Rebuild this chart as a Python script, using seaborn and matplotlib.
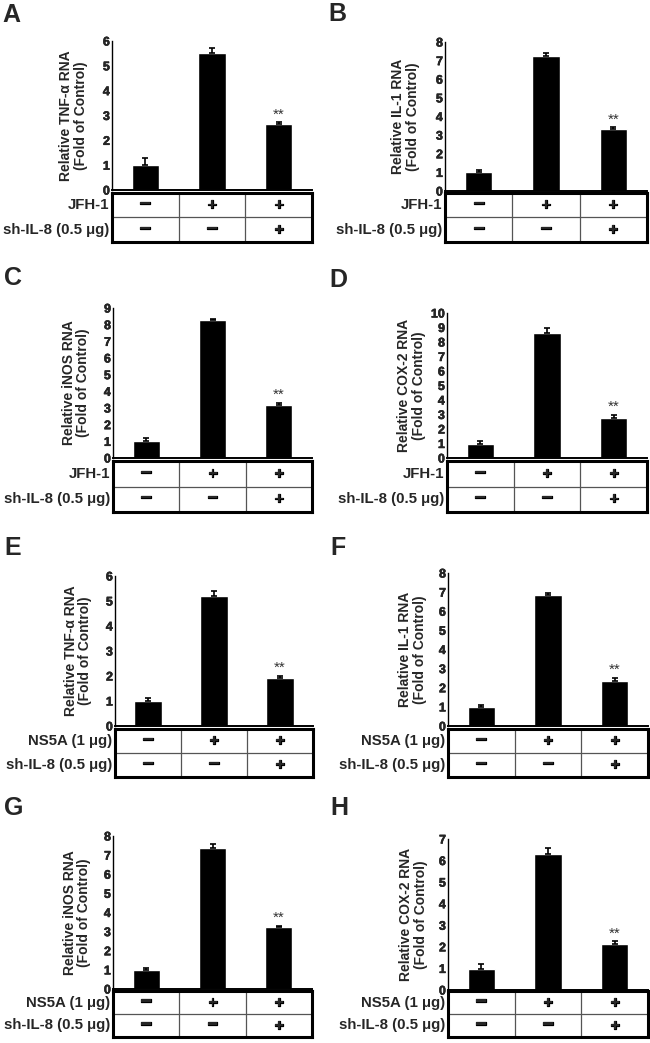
import numpy as np
import pandas as pd
import matplotlib
matplotlib.use("Agg")
import matplotlib.pyplot as plt
import matplotlib.patheffects as pe
import seaborn as sns

# ---------------- data ----------------
conditions = ["Control", "Treated", "Treated + sh-IL-8"]
panel_letters = ["A", "B", "C", "D", "E", "F", "G", "H"]
genes = ["TNF-α", "IL-1", "iNOS", "COX-2", "TNF-α", "IL-1", "iNOS", "COX-2"]
y_max = [6, 8, 9, 10, 6, 8, 8, 7]

mean_A = [1.00, 5.53, 2.64]; err_A = [0.30, 0.19, 0.09]
mean_B = [1.02, 7.24, 3.34]; err_B = [0.12, 0.16, 0.09]
mean_C = [1.02, 8.26, 3.19]; err_C = [0.20, 0.10, 0.12]
mean_D = [0.97, 8.64, 2.77]; err_D = [0.21, 0.32, 0.21]
mean_E = [1.01, 5.21, 1.91]; err_E = [0.11, 0.19, 0.11]
mean_F = [1.01, 6.86, 2.34]; err_F = [0.11, 0.09, 0.18]
mean_G = [1.01, 7.37, 3.25]; err_G = [0.10, 0.20, 0.07]
mean_H = [0.99, 6.29, 2.11]; err_H = [0.22, 0.28, 0.16]

means = [mean_A, mean_B, mean_C, mean_D, mean_E, mean_F, mean_G, mean_H]
errs = [err_A, err_B, err_C, err_D, err_E, err_F, err_G, err_H]

row1_labels = ["JFH-1"] * 4 + ["NS5A (1 μg)"] * 4
row2_label = "sh-IL-8 (0.5 μg)"
row1_signs = ["−", "+", "+"]
row2_signs = ["−", "−", "+"]
significance = ["", "", "**"]

# ---------------- style ----------------
sns.set_style("white")
plt.rcParams["font.family"] = ["Liberation Sans", "DejaVu Sans"]
plt.rcParams["font.weight"] = "bold"

W, H = 650, 1043
fig = plt.figure(figsize=(W / 100, H / 100), dpi=100)


def rect(x0, y0, x1, y1):
    return [x0 / W, 1 - y1 / H, (x1 - x0) / W, (y1 - y0) / H]

# layout in pixels: axes x0, x1, axes top, axes bottom, table top, table bottom
layout = [
    (112, 312, 41, 190, 193, 242),
    (445, 647, 42, 191, 193, 242),
    (113, 312, 308, 458, 461, 512),
    (447, 647, 313, 458, 461, 512),
    (115, 313, 576, 726, 729, 777),
    (448, 648, 573, 726, 729, 777),
    (113, 312, 836, 989, 991, 1037),
    (448, 648, 839, 990, 991, 1037),
]
label_x = [-0.12, -0.125, -0.115, -0.105, -0.115, -0.105, -0.11, -0.10]
letter_pos = [(2, 3), (328, 2), (4, 266), (329, 268), (4, 536), (330, 536), (4, 796), (330, 796)]
sign_size = {"−": 14, "+": 11.5}
sign_fx = [pe.withStroke(linewidth=0.9, foreground="black")]
tick_fx = [pe.withStroke(linewidth=0.35, foreground="black")]

for i in range(8):
    x0, x1, yt, yb, tt, tb = layout[i]
    ax = fig.add_axes(rect(x0, yt, x1, yb))
    df = pd.DataFrame({"cond": conditions, "val": means[i], "err": errs[i]})
    sns.barplot(data=df, x="cond", y="val", color="black", saturation=1,
                width=0.41, errorbar=None, ax=ax)
    centers = [p.get_x() + p.get_width() / 2 for p in ax.patches]
    ax.errorbar(centers, df["val"], yerr=[np.zeros(len(df)), df["err"]],
                fmt="none", ecolor="black", elinewidth=1.2, capsize=2.5, capthick=1.2)
    for c, v, e, s in zip(centers, df["val"], df["err"], significance):
        if s:
            ax.annotate(s, (c, v + e), xytext=(0, 0.5), textcoords="offset points",
                        ha="center", va="bottom", fontsize=11, fontweight="normal",
                        color="#333333")
    ax.set_xlim(-0.5, 2.5)
    ax.set_ylim(0, y_max[i])
    ax.set_yticks(range(0, y_max[i] + 1))
    ax.set_xticks([0.5, 1.5])
    ax.set_xticklabels([])
    ax.tick_params(axis="y", direction="in", length=2, width=0.8, pad=1.5, labelsize=9)
    ax.tick_params(axis="x", direction="in", length=2, width=0.8)
    for lab in ax.get_yticklabels():
        lab.set_fontweight("bold")
        lab.set_path_effects(tick_fx)
    ax.set_xlabel("")
    ax.set_ylabel(f"Relative {genes[i]} RNA\n(Fold of Control)", fontsize=10,
                  fontweight="bold", linespacing=1.05)
    ax.yaxis.set_label_coords(label_x[i], 0.5)
    for side in ["top", "right"]:
        ax.spines[side].set_visible(False)
    ax.spines["left"].set_linewidth(1.0)
    ax.spines["bottom"].set_linewidth(1.4)
    ax.spines["left"].set_color("black")
    ax.spines["bottom"].set_color("black")

    # table below
    tx = fig.add_axes(rect(x0, tt, x1, tb))
    tx.set_xlim(-0.5, 2.5)
    tx.set_ylim(0, 2)
    tx.set_xticks([])
    tx.set_yticks([])
    for sp in tx.spines.values():
        sp.set_visible(True)
        sp.set_linewidth(2.2)
        sp.set_color("black")
    tx.axhline(1, color="#555555", lw=0.9)
    for b in [0.5, 1.5]:
        tx.axvline(b, color="#555555", lw=0.9)
    for j in range(3):
        for yy, s in ((1.5, row1_signs[j]), (0.5, row2_signs[j])):
            tx.text(j, yy, s, ha="center", va="center", fontsize=sign_size[s],
                    fontweight="bold", path_effects=sign_fx)
    tx.annotate(row1_labels[i], (-0.5, 1.5), xytext=(-2, 0), textcoords="offset points",
                ha="right", va="center", fontsize=10.8, fontweight="bold",
                annotation_clip=False)
    tx.annotate(row2_label, (-0.5, 0.5), xytext=(-2, 0), textcoords="offset points",
                ha="right", va="center", fontsize=10.8, fontweight="bold",
                annotation_clip=False)

    lx, ly = letter_pos[i]
    fig.text(lx / W, 1 - ly / H, panel_letters[i], fontsize=18, fontweight="bold",
             ha="left", va="top")

fig.savefig("out.png", dpi=100, facecolor="white")
